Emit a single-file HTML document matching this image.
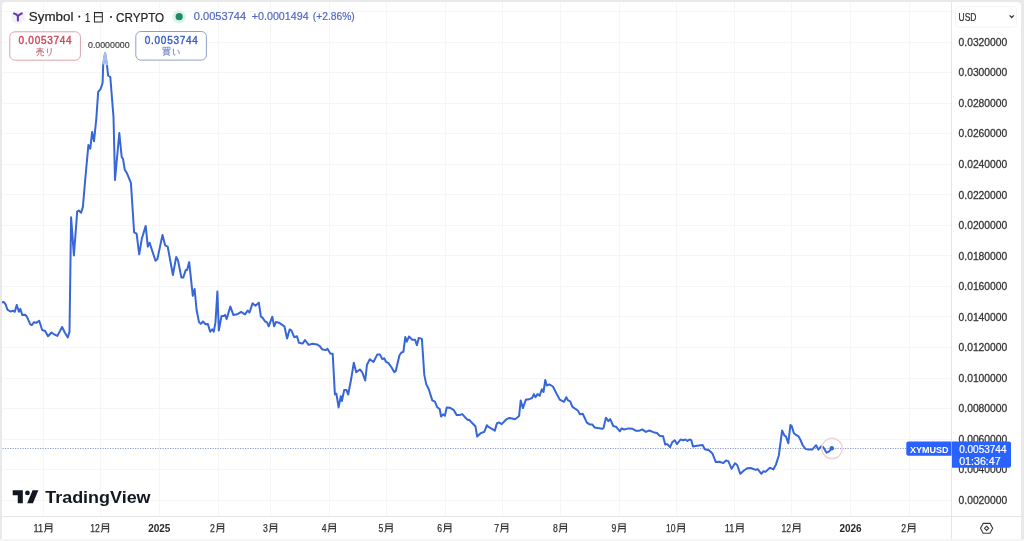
<!DOCTYPE html>
<html><head><meta charset="utf-8"><style>
html,body{margin:0;padding:0;}
body{width:1024px;height:541px;overflow:hidden;background:#e9e9e9;position:relative;font-family:"Liberation Sans",sans-serif;}
#panel{position:absolute;left:1.9px;top:1.9px;width:1019.6px;height:540px;background:#fff;border-radius:4px 4px 0 0;overflow:hidden;}
#bot{position:absolute;left:0;top:538.9px;width:1024px;height:2.1px;background:#f5f5f5;}
svg{position:absolute;left:0;top:0;filter:blur(0.3px);}
.pl{font-family:"Liberation Sans",sans-serif;font-size:10px;fill:#353535;stroke:#353535;stroke-width:0.28px;}
.tl{font-family:"Liberation Sans",sans-serif;font-size:10px;fill:#333;stroke:#333;stroke-width:0.25px;}
.tlb{font-family:"Liberation Sans",sans-serif;font-size:10px;font-weight:bold;fill:#2a2a2a;}
.lab{font-family:"Liberation Sans",sans-serif;font-size:9px;font-weight:bold;fill:#fff;}
.lab2{font-family:"Liberation Sans",sans-serif;font-size:10px;fill:#fff;stroke:#fff;stroke-width:0.2px;}
.hd{font-family:"Liberation Sans",sans-serif;font-size:13px;fill:#262626;stroke:#262626;stroke-width:0.22px;}
.lg{font-family:"Liberation Sans",sans-serif;font-size:10.5px;fill:#4f66c2;stroke:#4f66c2;stroke-width:0.18px;}
.bp{font-family:"Liberation Sans",sans-serif;font-size:10px;stroke-width:0.4px;}
.usd{font-family:"Liberation Sans",sans-serif;font-size:10.8px;fill:#2e2e2e;stroke:#2e2e2e;stroke-width:0.2px;}
.tv{font-family:"Liberation Sans",sans-serif;font-size:17px;font-weight:bold;fill:#131722;}
.hm{font-family:"Liberation Sans",sans-serif;font-size:8.8px;fill:#3a3a3a;stroke:#3a3a3a;stroke-width:0.15px;}
</style></head><body>
<div id="panel"></div>
<svg width="1024" height="541" viewBox="0 0 1024 541">
<defs><clipPath id="cp"><path d="M1.9 538.9V5.9Q1.9 1.9 5.9 1.9H1017.5Q1021.5 1.9 1021.5 5.9V538.9Z"/></clipPath></defs>
<g clip-path="url(#cp)">
<line x1="43.5" y1="0" x2="43.5" y2="516" stroke="#f5f6f8" stroke-width="1"/>
<line x1="100.5" y1="0" x2="100.5" y2="516" stroke="#f5f6f8" stroke-width="1"/>
<line x1="159.5" y1="0" x2="159.5" y2="516" stroke="#f5f6f8" stroke-width="1"/>
<line x1="218.5" y1="0" x2="218.5" y2="516" stroke="#f5f6f8" stroke-width="1"/>
<line x1="270.5" y1="0" x2="270.5" y2="516" stroke="#f5f6f8" stroke-width="1"/>
<line x1="329.5" y1="0" x2="329.5" y2="516" stroke="#f5f6f8" stroke-width="1"/>
<line x1="386.5" y1="0" x2="386.5" y2="516" stroke="#f5f6f8" stroke-width="1"/>
<line x1="445.5" y1="0" x2="445.5" y2="516" stroke="#f5f6f8" stroke-width="1"/>
<line x1="502.5" y1="0" x2="502.5" y2="516" stroke="#f5f6f8" stroke-width="1"/>
<line x1="560.5" y1="0" x2="560.5" y2="516" stroke="#f5f6f8" stroke-width="1"/>
<line x1="619.5" y1="0" x2="619.5" y2="516" stroke="#f5f6f8" stroke-width="1"/>
<line x1="676.5" y1="0" x2="676.5" y2="516" stroke="#f5f6f8" stroke-width="1"/>
<line x1="734.5" y1="0" x2="734.5" y2="516" stroke="#f5f6f8" stroke-width="1"/>
<line x1="791.5" y1="0" x2="791.5" y2="516" stroke="#f5f6f8" stroke-width="1"/>
<line x1="850.5" y1="0" x2="850.5" y2="516" stroke="#f5f6f8" stroke-width="1"/>
<line x1="909.5" y1="0" x2="909.5" y2="516" stroke="#f5f6f8" stroke-width="1"/>
<line x1="0" y1="11.5" x2="951" y2="11.5" stroke="#f5f6f8" stroke-width="1"/>
<line x1="0" y1="42.5" x2="951" y2="42.5" stroke="#f5f6f8" stroke-width="1"/>
<line x1="0" y1="72.5" x2="951" y2="72.5" stroke="#f5f6f8" stroke-width="1"/>
<line x1="0" y1="103.5" x2="951" y2="103.5" stroke="#f5f6f8" stroke-width="1"/>
<line x1="0" y1="133.5" x2="951" y2="133.5" stroke="#f5f6f8" stroke-width="1"/>
<line x1="0" y1="164.5" x2="951" y2="164.5" stroke="#f5f6f8" stroke-width="1"/>
<line x1="0" y1="194.5" x2="951" y2="194.5" stroke="#f5f6f8" stroke-width="1"/>
<line x1="0" y1="225.5" x2="951" y2="225.5" stroke="#f5f6f8" stroke-width="1"/>
<line x1="0" y1="255.5" x2="951" y2="255.5" stroke="#f5f6f8" stroke-width="1"/>
<line x1="0" y1="286.5" x2="951" y2="286.5" stroke="#f5f6f8" stroke-width="1"/>
<line x1="0" y1="316.5" x2="951" y2="316.5" stroke="#f5f6f8" stroke-width="1"/>
<line x1="0" y1="347.5" x2="951" y2="347.5" stroke="#f5f6f8" stroke-width="1"/>
<line x1="0" y1="378.5" x2="951" y2="378.5" stroke="#f5f6f8" stroke-width="1"/>
<line x1="0" y1="408.5" x2="951" y2="408.5" stroke="#f5f6f8" stroke-width="1"/>
<line x1="0" y1="439.5" x2="951" y2="439.5" stroke="#f5f6f8" stroke-width="1"/>
<line x1="0" y1="469.5" x2="951" y2="469.5" stroke="#f5f6f8" stroke-width="1"/>
<line x1="0" y1="500.5" x2="951" y2="500.5" stroke="#f5f6f8" stroke-width="1"/>
<line x1="951.5" y1="0" x2="951.5" y2="541" stroke="#e4e5e8" stroke-width="1"/>
<line x1="0" y1="516.5" x2="1024" y2="516.5" stroke="#e4e5e8" stroke-width="1"/>
<text x="958.6" y="45.8" class="pl" textLength="48.6" lengthAdjust="spacingAndGlyphs">0.0320000</text>
<text x="958.6" y="76.3" class="pl" textLength="48.6" lengthAdjust="spacingAndGlyphs">0.0300000</text>
<text x="958.6" y="106.9" class="pl" textLength="48.6" lengthAdjust="spacingAndGlyphs">0.0280000</text>
<text x="958.6" y="137.4" class="pl" textLength="48.6" lengthAdjust="spacingAndGlyphs">0.0260000</text>
<text x="958.6" y="167.9" class="pl" textLength="48.6" lengthAdjust="spacingAndGlyphs">0.0240000</text>
<text x="958.6" y="198.5" class="pl" textLength="48.6" lengthAdjust="spacingAndGlyphs">0.0220000</text>
<text x="958.6" y="229" class="pl" textLength="48.6" lengthAdjust="spacingAndGlyphs">0.0200000</text>
<text x="958.6" y="259.5" class="pl" textLength="48.6" lengthAdjust="spacingAndGlyphs">0.0180000</text>
<text x="958.6" y="290" class="pl" textLength="48.6" lengthAdjust="spacingAndGlyphs">0.0160000</text>
<text x="958.6" y="320.6" class="pl" textLength="48.6" lengthAdjust="spacingAndGlyphs">0.0140000</text>
<text x="958.6" y="351.1" class="pl" textLength="48.6" lengthAdjust="spacingAndGlyphs">0.0120000</text>
<text x="958.6" y="381.6" class="pl" textLength="48.6" lengthAdjust="spacingAndGlyphs">0.0100000</text>
<text x="958.6" y="412.2" class="pl" textLength="48.6" lengthAdjust="spacingAndGlyphs">0.0080000</text>
<text x="958.6" y="442.7" class="pl" textLength="48.6" lengthAdjust="spacingAndGlyphs">0.0060000</text>
<text x="958.6" y="473.2" class="pl" textLength="48.6" lengthAdjust="spacingAndGlyphs">0.0040000</text>
<text x="958.6" y="503.8" class="pl" textLength="48.6" lengthAdjust="spacingAndGlyphs">0.0020000</text>
<text x="33.6" y="532" class="tl" textLength="9.5" lengthAdjust="spacingAndGlyphs">11</text>
<path transform="translate(43.6 522.6) scale(1.000)" d="M2 1.1V6.2Q2 8.7 0.7 9.8M2 1.1H8.3V8.9Q8.3 9.7 7.1 9.6M2 3.8H8.3M2 6H8.3" fill="none" stroke="#3b3b3b" stroke-width="1.10" stroke-linecap="butt" stroke-linejoin="miter"/>
<text x="90.3" y="532" class="tl" textLength="9.5" lengthAdjust="spacingAndGlyphs">12</text>
<path transform="translate(100.3 522.6) scale(1.000)" d="M2 1.1V6.2Q2 8.7 0.7 9.8M2 1.1H8.3V8.9Q8.3 9.7 7.1 9.6M2 3.8H8.3M2 6H8.3" fill="none" stroke="#3b3b3b" stroke-width="1.10" stroke-linecap="butt" stroke-linejoin="miter"/>
<text x="159.3" y="532" class="tlb" text-anchor="middle">2025</text>
<text x="210.1" y="532" class="tl" textLength="4.8" lengthAdjust="spacingAndGlyphs">2</text>
<path transform="translate(215.4 522.6) scale(1.000)" d="M2 1.1V6.2Q2 8.7 0.7 9.8M2 1.1H8.3V8.9Q8.3 9.7 7.1 9.6M2 3.8H8.3M2 6H8.3" fill="none" stroke="#3b3b3b" stroke-width="1.10" stroke-linecap="butt" stroke-linejoin="miter"/>
<text x="263.1" y="532" class="tl" textLength="4.8" lengthAdjust="spacingAndGlyphs">3</text>
<path transform="translate(268.4 522.6) scale(1.000)" d="M2 1.1V6.2Q2 8.7 0.7 9.8M2 1.1H8.3V8.9Q8.3 9.7 7.1 9.6M2 3.8H8.3M2 6H8.3" fill="none" stroke="#3b3b3b" stroke-width="1.10" stroke-linecap="butt" stroke-linejoin="miter"/>
<text x="321.8" y="532" class="tl" textLength="4.8" lengthAdjust="spacingAndGlyphs">4</text>
<path transform="translate(327.1 522.6) scale(1.000)" d="M2 1.1V6.2Q2 8.7 0.7 9.8M2 1.1H8.3V8.9Q8.3 9.7 7.1 9.6M2 3.8H8.3M2 6H8.3" fill="none" stroke="#3b3b3b" stroke-width="1.10" stroke-linecap="butt" stroke-linejoin="miter"/>
<text x="378.6" y="532" class="tl" textLength="4.8" lengthAdjust="spacingAndGlyphs">5</text>
<path transform="translate(383.9 522.6) scale(1.000)" d="M2 1.1V6.2Q2 8.7 0.7 9.8M2 1.1H8.3V8.9Q8.3 9.7 7.1 9.6M2 3.8H8.3M2 6H8.3" fill="none" stroke="#3b3b3b" stroke-width="1.10" stroke-linecap="butt" stroke-linejoin="miter"/>
<text x="437.3" y="532" class="tl" textLength="4.8" lengthAdjust="spacingAndGlyphs">6</text>
<path transform="translate(442.6 522.6) scale(1.000)" d="M2 1.1V6.2Q2 8.7 0.7 9.8M2 1.1H8.3V8.9Q8.3 9.7 7.1 9.6M2 3.8H8.3M2 6H8.3" fill="none" stroke="#3b3b3b" stroke-width="1.10" stroke-linecap="butt" stroke-linejoin="miter"/>
<text x="494.2" y="532" class="tl" textLength="4.8" lengthAdjust="spacingAndGlyphs">7</text>
<path transform="translate(499.5 522.6) scale(1.000)" d="M2 1.1V6.2Q2 8.7 0.7 9.8M2 1.1H8.3V8.9Q8.3 9.7 7.1 9.6M2 3.8H8.3M2 6H8.3" fill="none" stroke="#3b3b3b" stroke-width="1.10" stroke-linecap="butt" stroke-linejoin="miter"/>
<text x="552.9" y="532" class="tl" textLength="4.8" lengthAdjust="spacingAndGlyphs">8</text>
<path transform="translate(558.2 522.6) scale(1.000)" d="M2 1.1V6.2Q2 8.7 0.7 9.8M2 1.1H8.3V8.9Q8.3 9.7 7.1 9.6M2 3.8H8.3M2 6H8.3" fill="none" stroke="#3b3b3b" stroke-width="1.10" stroke-linecap="butt" stroke-linejoin="miter"/>
<text x="611.6" y="532" class="tl" textLength="4.8" lengthAdjust="spacingAndGlyphs">9</text>
<path transform="translate(616.9 522.6) scale(1.000)" d="M2 1.1V6.2Q2 8.7 0.7 9.8M2 1.1H8.3V8.9Q8.3 9.7 7.1 9.6M2 3.8H8.3M2 6H8.3" fill="none" stroke="#3b3b3b" stroke-width="1.10" stroke-linecap="butt" stroke-linejoin="miter"/>
<text x="666.1" y="532" class="tl" textLength="9.5" lengthAdjust="spacingAndGlyphs">10</text>
<path transform="translate(676.1 522.6) scale(1.000)" d="M2 1.1V6.2Q2 8.7 0.7 9.8M2 1.1H8.3V8.9Q8.3 9.7 7.1 9.6M2 3.8H8.3M2 6H8.3" fill="none" stroke="#3b3b3b" stroke-width="1.10" stroke-linecap="butt" stroke-linejoin="miter"/>
<text x="724.8" y="532" class="tl" textLength="9.5" lengthAdjust="spacingAndGlyphs">11</text>
<path transform="translate(734.8 522.6) scale(1.000)" d="M2 1.1V6.2Q2 8.7 0.7 9.8M2 1.1H8.3V8.9Q8.3 9.7 7.1 9.6M2 3.8H8.3M2 6H8.3" fill="none" stroke="#3b3b3b" stroke-width="1.10" stroke-linecap="butt" stroke-linejoin="miter"/>
<text x="781.6" y="532" class="tl" textLength="9.5" lengthAdjust="spacingAndGlyphs">12</text>
<path transform="translate(791.6 522.6) scale(1.000)" d="M2 1.1V6.2Q2 8.7 0.7 9.8M2 1.1H8.3V8.9Q8.3 9.7 7.1 9.6M2 3.8H8.3M2 6H8.3" fill="none" stroke="#3b3b3b" stroke-width="1.10" stroke-linecap="butt" stroke-linejoin="miter"/>
<text x="850.5" y="532" class="tlb" text-anchor="middle">2026</text>
<text x="901.3" y="532" class="tl" textLength="4.8" lengthAdjust="spacingAndGlyphs">2</text>
<path transform="translate(906.6 522.6) scale(1.000)" d="M2 1.1V6.2Q2 8.7 0.7 9.8M2 1.1H8.3V8.9Q8.3 9.7 7.1 9.6M2 3.8H8.3M2 6H8.3" fill="none" stroke="#3b3b3b" stroke-width="1.10" stroke-linecap="butt" stroke-linejoin="miter"/>
<line x1="0" y1="448.5" x2="951" y2="448.5" stroke="#8d9bc4" stroke-width="1" stroke-dasharray="1.2 1.3"/>
<path d="M1.8 302.5 L2.2 302.2 L3.7 301.9 L5.6 304.4 L7.4 309.6 L10.4 311.5 L13.3 310.8 L14.8 311.8 L16.7 304.9 L18.9 311.8 L20.3 308.8 L22.2 315 L25.1 314.8 L26.6 316.2 L30.3 324.4 L31.8 325.1 L34 322.2 L36.2 322.9 L39.2 320.7 L42.2 330 L45.1 331 L48 336.2 L51.5 332.5 L54.7 334.7 L57.4 335.9 L62.1 327 L64.8 332.5 L67.8 337.4 L69.5 331.8 L71.1 217.2 L73.9 255.4 L77.2 211.6 L78.8 210.5 L81.1 212.7 L82.9 206.9 L85.1 181 L88.4 145 L90.3 148.7 L92.1 132 L94 141.3 L96.2 120 L98.2 91.8 L100.7 88.8 L102.6 82.9 L103.2 64.4 L105.1 53.3 L107 65.1 L108.1 75.5 L110.3 77 L113.5 117 L115 180 L119.3 133 L121.7 157 L123 158.8 L124.8 169.9 L126.7 172.7 L130.9 182.8 L134.1 232.3 L136.6 233.6 L139.2 254.3 L141.8 238.8 L145.7 225.9 L147.8 246.6 L149.6 242.7 L155.5 260.8 L157.4 259 L162.5 234.9 L165.1 245.3 L167.7 246.6 L172.9 275 L176.2 256.9 L178.1 260.8 L181.4 277.6 L183.2 277.6 L185.8 269.9 L187.1 269.9 L189.2 262.1 L192.8 295.8 L194.6 289 L196.6 310 L199 322.1 L200.8 323.9 L203 321.5 L205.6 324.2 L207.8 323.9 L210.2 331.7 L212.2 329.3 L213.8 331.7 L215.5 322.1 L217.4 291.4 L218.8 330.5 L221.5 316.1 L223.7 316.1 L225.1 314.9 L226.7 319.1 L230.3 306.4 L233.3 314.9 L237.1 314.3 L241.1 311.9 L245 314.3 L247.7 310.6 L249.5 312.5 L252.5 303.4 L255.5 305.8 L258.8 302.6 L260.9 316.7 L262.7 317.9 L265.1 321.5 L266.9 322.1 L268.7 326.3 L272.3 316.7 L274.1 326.3 L275.9 322.1 L278.9 322.7 L284.4 326.3 L287.1 338.5 L289.6 329.4 L291.5 330.7 L294.2 337.2 L297 336.3 L298.9 342.7 L302.6 343.6 L305 340 L308.7 344.9 L312.4 343.7 L317.3 344.6 L319.8 346.1 L322 349.2 L325.7 350.1 L327.5 348.8 L330.3 353.4 L332.7 353.8 L334.9 394.5 L336.4 393.6 L338.6 407.4 L340.8 396.3 L341.9 401 L344.2 389.9 L346.4 389.9 L348.2 394.5 L351.2 378.8 L353.8 362.7 L356.2 372.3 L359.9 369.5 L362.3 372.3 L365.2 380.5 L367 364.7 L369.8 359.2 L373.5 362 L377.2 354.6 L380 354.6 L382.4 359.2 L384.2 358.3 L386.1 362 L388.3 362.9 L391.6 367.5 L394.2 372.1 L395.7 371.2 L399.4 355.5 L401.2 352.7 L403.4 351.8 L405.3 337 L406.8 341.6 L409 336.5 L412.3 339.8 L415.1 339.8 L416.9 345.3 L418.8 337.9 L421.9 338.9 L424.3 374.9 L426.2 384.1 L428.6 388.8 L432.3 400.4 L434.9 401.7 L437.3 407.3 L439.7 409.1 L441.1 416.5 L443.1 414.4 L444.9 415.8 L446.7 407.4 L449.7 407.7 L453.9 410.2 L456.6 415.1 L459.4 415.1 L462.2 414.1 L465 417.2 L467.7 419.9 L469.1 419.7 L471.2 422 L475.4 426.2 L477.2 436.6 L480.9 433.1 L484.4 431.7 L486.9 425.2 L488.5 426.9 L492 428.9 L494.8 430.7 L496.9 423.4 L498.9 422.4 L501.7 424.1 L505.9 419.7 L509.3 417.9 L512.1 418.5 L514.9 419.2 L517.7 417.2 L519.1 415.8 L520.7 400.5 L522.9 408.1 L526 399.4 L528.5 399.4 L532.1 398 L533.9 394.1 L535.5 397.2 L537.6 394.1 L539.7 395.8 L541.8 389.3 L543.5 392 L545.3 380 L546.9 385.5 L549.4 384.4 L552.9 386.5 L556.4 393.4 L559.8 399.7 L564 401.8 L566.3 397.2 L568.1 400.4 L570.2 401.3 L572.3 406.6 L575.1 408.7 L577.8 410.5 L579.9 414.2 L582.7 413.8 L586.9 422.6 L589.6 424.4 L592.4 424.6 L594.5 427.4 L598 428.1 L602.1 428.8 L603.5 428.1 L605.9 417.7 L608.4 421.2 L610.2 419.1 L613.2 426 L616 426.7 L619.9 431.3 L621.5 428.5 L624.3 429.5 L628.5 428.4 L632.6 428.8 L636.1 430.8 L638.9 430.8 L642.3 429.4 L645.8 431.9 L649.3 430.5 L653.4 432.2 L656.9 433 L659.7 435.8 L663.1 436.3 L665.2 444.4 L667.3 444.1 L670.1 447.2 L672.2 442.3 L674.7 440.2 L677 444.1 L680.5 439.5 L683.3 440.2 L685.3 439.5 L687.4 440.9 L689.5 439.5 L691.3 440.2 L693 446.5 L697.1 445.8 L702.7 445.1 L704.8 449.2 L708.9 450.2 L712.4 453.4 L715.8 462.1 L719.3 461.7 L723.3 463.1 L726.1 460.5 L728.3 461.1 L731.6 468.8 L735 463.3 L737.2 465 L740.3 473.8 L743.9 470.5 L747.2 468.3 L750.5 468 L752.7 468.8 L755.5 469.9 L757.7 469.1 L761.4 473.8 L763.3 471.3 L765.5 471.9 L769.9 467.7 L773.3 469.4 L776 464.4 L778.8 455.5 L782.1 430.5 L784.4 435.5 L786 436.6 L788.3 443.3 L790.4 425 L791.7 426.1 L793.9 433.3 L796.1 435 L798.3 436.1 L800.5 440 L802.8 445.5 L805.5 448.9 L808.3 449.6 L812.2 449.6 L816.1 445.2 L818.3 449.6 L821.1 446.3 L823.3 447.2 L826.6 452.7 L828.8 451.6 L831.8 448.3" fill="none" stroke="#3766d8" stroke-width="2.0" stroke-linejoin="round" stroke-linecap="round"/>
<path d="M103.2 64.4L105.1 53.3L107 65.1" fill="none" stroke="#a9bdee" stroke-width="2.2" stroke-linejoin="round"/>
<circle cx="832" cy="448.5" r="10.2" fill="none" stroke="#efd3d9" stroke-width="1.4"/>
<circle cx="831.8" cy="448.3" r="2.3" fill="#3766d8"/>
<path d="M908.3 441.6H951.5V455.8H908.3Q906.3 455.8 906.3 453.8V443.6Q906.3 441.6 908.3 441.6Z" fill="#2962ff"/>
<text x="910" y="452.5" class="lab">XYMUSD</text>
<path d="M952 441.6H1009Q1011 441.6 1011 443.6V465.8Q1011 467.8 1009 467.8H952Z" fill="#2962ff"/>
<text x="959.2" y="453" class="lab2">0.0053744</text>
<text x="959.2" y="465.3" class="lab2" textLength="41.5" lengthAdjust="spacingAndGlyphs">01:36:47</text>
<text x="88" y="48.3" class="hm">0.0000000</text>
<circle cx="17.9" cy="17" r="6.8" fill="#f4f1f9"/>
<path d="M14 13.6Q16.5 14.2 17.9 16.2Q19.3 14.2 21.8 13.4M17.9 16.2V20.6" fill="none" stroke="#6c3bb0" stroke-width="2.1" stroke-linecap="round" stroke-linejoin="round"/>
<text x="28.8" y="21.4" class="hd" textLength="44.6" lengthAdjust="spacingAndGlyphs">Symbol</text>
<circle cx="79.3" cy="16.6" r="1.05" fill="#2a2a2a"/>
<text x="85" y="21.6" class="hd" textLength="5.2" lengthAdjust="spacingAndGlyphs">1</text>
<path transform="translate(93.1 11.8) scale(1.060)" d="M1.3 0.8H8.7V9.6H1.3ZM1.3 4.6H8.7" fill="none" stroke="#2a2a2a" stroke-width="0.99" stroke-linecap="butt" stroke-linejoin="miter"/>
<circle cx="111" cy="17" r="1.05" fill="#2a2a2a"/>
<text x="116" y="21.5" class="hd" textLength="48.2" lengthAdjust="spacingAndGlyphs">CRYPTO</text>
<circle cx="179.2" cy="16.7" r="6.8" fill="#def2ec"/>
<circle cx="179.2" cy="16.7" r="3.6" fill="#1e8a6c"/>
<text x="193.8" y="20.4" class="lg" textLength="52.4" lengthAdjust="spacingAndGlyphs">0.0053744</text>
<text x="251.8" y="20.4" class="lg" textLength="56.8" lengthAdjust="spacingAndGlyphs">+0.0001494</text>
<text x="312.8" y="20.4" class="lg" textLength="42" lengthAdjust="spacingAndGlyphs">(+2.86%)</text>
<rect x="9.8" y="31.8" width="70.6" height="28.4" rx="5" fill="#fff" stroke="#dba3aa" stroke-width="1"/>
<text x="18.6" y="44" class="bp" fill="#cc4a5a" stroke="#cc4a5a" textLength="53" lengthAdjust="spacing">0.0053744</text>
<path transform="translate(35.5 47.2) scale(0.900)" d="M1.3 1.9H8.7M5 0.4V3.6M2.4 3.6H7.6M1.2 6.4V5H8.8V6.4M3.9 5.8Q3.9 8.6 1.3 9.7M6.1 5.8V8.9Q6.1 9.5 6.9 9.5H8.9V8.4" fill="none" stroke="#c0727c" stroke-width="1.06" stroke-linecap="butt" stroke-linejoin="miter"/>
<path transform="translate(45 47.2) scale(0.900)" d="M2.8 1.6Q2.4 4.6 2.9 6.6M6.9 1V5Q6.9 8.4 3.6 9.8" fill="none" stroke="#c0727c" stroke-width="1.06" stroke-linecap="butt" stroke-linejoin="miter"/>
<rect x="135.8" y="31.5" width="70.6" height="28.6" rx="5" fill="#fff" stroke="#8fa0c8" stroke-width="1"/>
<text x="144.8" y="44" class="bp" fill="#3a5cc6" stroke="#3a5cc6" textLength="53" lengthAdjust="spacing">0.0053744</text>
<path transform="translate(161.8 46.6) scale(0.940)" d="M1.2 0.7H8.8V3H1.2ZM3.7 0.7V3M6.3 0.7V3M2.3 4.1H7.7V8.2H2.3ZM2.3 5.5H7.7M2.3 6.9H7.7M3.6 8.4L1.3 9.8M6.4 8.4L8.7 9.8" fill="none" stroke="#6b86cf" stroke-width="0.85" stroke-linecap="butt" stroke-linejoin="miter"/>
<path transform="translate(171.2 46.8) scale(0.950)" d="M2.4 2Q2 6.2 3 8.6Q3.6 9.6 4.4 8.2M6.8 3.2Q8.4 4.8 8.6 7.4" fill="none" stroke="#6b86cf" stroke-width="1.00" stroke-linecap="butt" stroke-linejoin="miter"/>
<rect x="955.5" y="6.5" width="61" height="20.5" rx="3" fill="#fff" stroke="#f3f4f6" stroke-width="1"/>
<text x="958.6" y="20.8" class="usd" textLength="17.9" lengthAdjust="spacingAndGlyphs">USD</text>
<path d="M1009.6 15.4L1011.7 17.5L1013.8 15.4" fill="none" stroke="#333" stroke-width="1.3"/>
<g transform="translate(12.7 487.4) scale(0.723)" fill="#131722"><path d="M14 22H7V11H0V4h14v18zM28 22h-8l7.5-18h8L28 22z"/><circle cx="20.4" cy="7.6" r="3.3"/></g>
<text x="45.2" y="503.2" class="tv" textLength="105.4" lengthAdjust="spacingAndGlyphs">TradingView</text>
<path d="M983.2 523.4H990L992.7 528.3L990 533.2H983.2L980.5 528.3Z" fill="none" stroke="#3a3a3a" stroke-width="1.1"/>
<path d="M986.6 526.2L988.7 528.3L986.6 530.4L984.5 528.3Z" fill="none" stroke="#3a3a3a" stroke-width="1.1"/>
</g>
</svg>
<div id="bot"></div>
</body></html>
